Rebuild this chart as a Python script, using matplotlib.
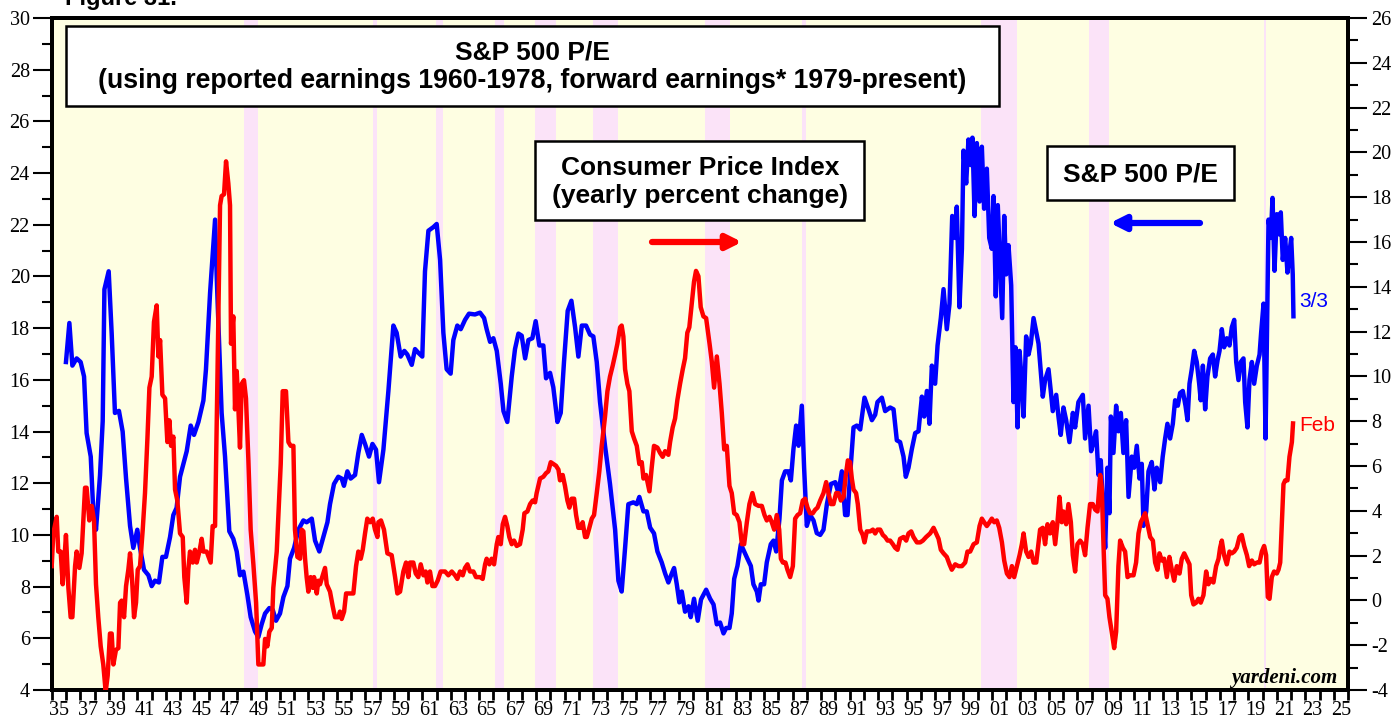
import matplotlib
matplotlib.use("Agg")
import matplotlib.pyplot as plt
from matplotlib.patches import Rectangle
import numpy as np

plt.rcParams['axes.unicode_minus'] = False

# S&P 500 P/E (left axis)
pe_years = [
    1935.98, 1936.22, 1936.43, 1936.73, 1937.01, 1937.25, 1937.43, 1937.72, 1937.9, 1938.09,
    1938.37, 1938.56, 1938.68, 1938.98, 1939.19, 1939.42, 1939.7, 1939.96, 1940.2, 1940.48,
    1940.71, 1940.99, 1941.18, 1941.46, 1941.77, 1942.0, 1942.23, 1942.51, 1942.75, 1943.0,
    1943.29, 1943.52, 1943.75, 1943.99, 1944.46, 1944.74, 1944.97, 1945.28, 1945.63, 1945.81,
    1946.1, 1946.45, 1946.56, 1946.91, 1947.15, 1947.45, 1947.73, 1947.97, 1948.2, 1948.44,
    1948.72, 1948.95, 1949.26, 1949.49, 1949.72, 1949.96, 1950.26, 1950.5, 1950.73, 1951.01,
    1951.25, 1951.53, 1951.71, 1952.0, 1952.3, 1952.65, 1952.88, 1953.24, 1953.47, 1953.77,
    1954.05, 1954.34, 1954.52, 1954.8, 1955.1, 1955.34, 1955.5, 1955.74, 1955.97, 1956.28,
    1956.51, 1956.75, 1956.98, 1957.26, 1957.5, 1957.75, 1957.96, 1958.27, 1958.62, 1958.97,
    1959.2, 1959.48, 1959.74, 1959.95, 1960.26, 1960.49, 1960.72, 1961.0, 1961.19, 1961.43,
    1961.78, 1962.01, 1962.25, 1962.48, 1962.71, 1962.99, 1963.18, 1963.46, 1963.7, 1964.0,
    1964.28, 1964.7, 1965.05, 1965.34, 1965.52, 1965.76, 1965.99, 1966.23, 1966.51, 1966.7,
    1966.97, 1967.28, 1967.51, 1967.75, 1967.98, 1968.22, 1968.45, 1968.73, 1968.96, 1969.22,
    1969.5, 1969.69, 1969.97, 1970.2, 1970.49, 1970.72, 1970.95, 1971.21, 1971.47, 1971.73,
    1971.96, 1972.2, 1972.5, 1972.78, 1973.01, 1973.25, 1973.48, 1973.83, 1974.18, 1974.54,
    1974.77, 1975.0, 1975.24, 1975.47, 1975.82, 1976.06, 1976.24, 1976.53, 1976.76, 1977.0,
    1977.27, 1977.51, 1977.81, 1978.05, 1978.28, 1978.52, 1978.68, 1978.87, 1979.05, 1979.22,
    1979.45, 1979.69, 1979.85, 1980.08, 1980.34, 1980.57, 1980.93, 1981.21, 1981.45, 1981.68,
    1981.91, 1982.15, 1982.34, 1982.57, 1982.73, 1982.9, 1983.13, 1983.37, 1983.6, 1983.83,
    1984.07, 1984.25, 1984.49, 1984.61, 1984.77, 1985.0, 1985.19, 1985.47, 1985.66, 1985.85,
    1986.08, 1986.25, 1986.48, 1986.71, 1986.88, 1987.06, 1987.25, 1987.42, 1987.65, 1987.81,
    1988.0, 1988.23, 1988.47, 1988.7, 1988.94, 1989.17, 1989.41, 1989.69, 1990.0, 1990.22,
    1990.46, 1990.69, 1990.86, 1991.04, 1991.28, 1991.51, 1991.75, 1992.05, 1992.33, 1992.57,
    1992.8, 1992.96, 1993.27, 1993.5, 1993.85, 1994.09, 1994.32, 1994.55, 1994.79, 1994.95,
    1995.14, 1995.37, 1995.61, 1995.84, 1996.08, 1996.24, 1996.43, 1996.61, 1996.78, 1997.01,
    1997.18, 1997.41, 1997.6, 1997.83, 1998.02, 1998.21, 1998.42, 1998.53, 1998.72, 1998.89,
    1999.0, 1999.19, 1999.35, 1999.52, 1999.63, 1999.78, 1999.94, 2000.13, 2000.29, 2000.45,
    2000.64, 2000.81, 2000.99, 2001.11, 2001.27, 2001.41, 2001.58, 2001.72, 2001.86, 2002.0,
    2002.16, 2002.35, 2002.51, 2002.65, 2002.8, 2002.94, 2003.1, 2003.22, 2003.4, 2003.57,
    2003.73, 2003.92, 2004.27, 2004.57, 2004.73, 2004.97, 2005.13, 2005.27, 2005.51, 2005.67,
    2005.83, 2006.02, 2006.21, 2006.44, 2006.68, 2006.84, 2007.07, 2007.38, 2007.54, 2007.78,
    2007.96, 2008.13, 2008.31, 2008.48, 2008.64, 2008.78, 2008.95, 2009.11, 2009.25, 2009.35,
    2009.53, 2009.72, 2009.88, 2010.05, 2010.23, 2010.42, 2010.59, 2010.82, 2010.98, 2011.17,
    2011.36, 2011.52, 2011.64, 2011.83, 2011.99, 2012.22, 2012.41, 2012.57, 2012.81, 2012.99,
    2013.16, 2013.32, 2013.51, 2013.7, 2013.86, 2014.05, 2014.21, 2014.4, 2014.59, 2014.73,
    2014.87, 2015.03, 2015.2, 2015.38, 2015.55, 2015.66, 2015.81, 2015.97, 2016.13, 2016.32,
    2016.51, 2016.67, 2016.84, 2016.98, 2017.14, 2017.3, 2017.49, 2017.68, 2017.84, 2018.01,
    2018.15, 2018.31, 2018.47, 2018.66, 2018.78, 2018.94, 2019.08, 2019.25, 2019.41, 2019.6,
    2019.79, 2019.9, 2020.07, 2020.21, 2020.3, 2020.42, 2020.58, 2020.7, 2020.84, 2021.0,
    2021.17, 2021.28, 2021.42, 2021.59, 2021.75, 2021.89, 2022.01, 2022.12, 2022.17,
]
pe_values = [
    16.69, 18.2, 16.55, 16.83, 16.69, 16.13, 13.94, 13.03, 10.9, 10.2,
    12.3, 14.4, 19.5, 20.2, 17.8, 14.72, 14.8, 14.0, 12.18, 10.35,
    9.5, 10.2, 9.5, 8.65, 8.44, 8.02, 8.23, 8.16, 9.15, 9.15,
    9.92, 10.77, 11.05, 12.25, 13.24, 14.23, 13.87, 14.37, 15.2, 16.4,
    19.37, 22.2, 20.08, 14.72, 13.03, 10.14, 9.85, 9.36, 8.44, 8.58,
    7.67, 6.82, 6.26, 6.05, 6.54, 6.96, 7.17, 7.1, 6.68, 6.96,
    7.6, 8.02, 9.08, 9.5, 10.2, 10.56, 10.49, 10.63, 9.78, 9.36,
    9.92, 10.49, 11.19, 11.97, 12.25, 12.18, 11.9, 12.46, 12.18, 12.32,
    13.17, 13.87, 13.52, 13.03, 13.52, 13.3, 12.04, 13.3, 15.57, 18.1,
    17.82, 16.9, 17.12, 16.98, 16.58, 17.19, 17.05, 16.9, 20.2, 21.77,
    21.91, 22.03, 20.64, 17.82, 16.41, 16.24, 17.54, 18.1, 17.96, 18.32,
    18.56, 18.53, 18.6, 18.39, 17.96, 17.47, 17.61, 17.12, 15.85, 14.79,
    14.37, 16.13, 17.19, 17.79, 17.71, 16.83, 17.54, 17.61, 18.27, 17.33,
    17.33, 16.06, 16.27, 15.71, 14.37, 14.72, 16.69, 18.67, 19.06, 18.03,
    16.9, 18.1, 18.1, 17.75, 17.68, 16.69, 15.14, 13.45, 11.97, 10.2,
    8.23, 7.81, 9.5, 11.19, 11.26, 11.19, 11.47, 10.91, 10.91, 10.28,
    10.06, 9.36, 8.94, 8.51, 8.16, 8.51, 8.72, 8.09, 7.39, 7.81,
    7.03, 7.24, 6.82, 7.53, 6.68, 7.5, 7.88, 7.53, 7.31, 6.54,
    6.61, 6.19, 6.4, 6.4, 6.96, 8.3, 8.8, 9.64, 9.36, 9.08,
    8.8, 8.09, 7.81, 7.46, 8.09, 8.09, 8.94, 9.64, 9.78, 9.36,
    10.63, 12.11, 12.46, 12.46, 12.11, 13.31, 14.23, 13.45, 15.0, 12.6,
    10.35, 10.77, 10.56, 10.07, 10.0, 10.2, 11.19, 11.97, 12.04, 11.62,
    12.46, 10.77, 10.77, 12.32, 14.16, 14.23, 14.08, 15.31, 14.86, 14.44,
    14.65, 15.14, 15.31, 14.79, 14.93, 14.86, 13.66, 13.59, 13.03, 12.25,
    12.6, 13.31, 13.94, 14.01, 15.35, 14.58, 15.57, 14.3, 16.55, 15.85,
    17.33, 18.39, 19.51, 17.96, 18.95, 22.34, 21.49, 22.7, 18.81, 21.07,
    24.87, 23.6, 25.3, 24.31, 25.37, 22.34, 25.16, 22.9, 25.02, 22.62,
    24.17, 21.49, 21.07, 23.11, 19.23, 22.76, 20.36, 18.39, 22.34, 20.08,
    21.21, 19.66, 15.14, 17.26, 14.16, 17.12, 15.85, 14.58, 17.68, 16.98,
    17.4, 18.39, 17.4, 15.35, 15.99, 16.41, 15.57, 14.79, 15.42, 14.58,
    13.87, 14.93, 14.44, 13.59, 14.72, 14.16, 15.14, 15.42, 13.73, 15.0,
    13.24, 13.59, 14.01, 12.32, 12.89, 11.19, 9.5, 12.6, 10.84, 14.58,
    13.17, 15.0, 14.01, 14.72, 13.17, 14.44, 11.47, 13.03, 12.6, 13.45,
    12.18, 12.75, 10.35, 10.91, 12.46, 12.82, 11.76, 12.6, 12.04, 13.03,
    13.73, 14.3, 13.73, 14.3, 15.21, 15.0, 15.49, 15.57, 15.0, 14.44,
    15.85, 16.41, 17.12, 16.69, 15.85, 15.21, 16.55, 14.86, 16.13, 16.83,
    16.98, 16.13, 16.76, 17.12, 17.96, 17.26, 17.61, 17.33, 18.03, 18.32,
    16.69, 15.99, 16.69, 16.83, 15.14, 14.16, 15.99, 16.69, 15.85, 16.55,
    16.98, 17.82, 18.95, 13.73, 17.26, 22.2, 21.49, 23.04, 20.22, 22.41,
    21.63, 22.48, 20.64, 21.49, 20.15, 20.92, 21.49, 20.08, 18.46,
]

# CPI yearly percent change (right axis)
cpi_years = [
    1934.98, 1935.09, 1935.33, 1935.44, 1935.61, 1935.75, 1935.84, 1935.98, 1936.15, 1936.31,
    1936.43, 1936.62, 1936.73, 1936.92, 1937.08, 1937.32, 1937.43, 1937.62, 1937.79, 1937.95,
    1938.09, 1938.25, 1938.42, 1938.6, 1938.77, 1938.91, 1939.07, 1939.19, 1939.31, 1939.49,
    1939.66, 1939.78, 1939.89, 1940.06, 1940.2, 1940.36, 1940.48, 1940.62, 1940.76, 1940.9,
    1941.02, 1941.18, 1941.37, 1941.53, 1941.7, 1941.84, 1942.0, 1942.16, 1942.35, 1942.47,
    1942.59, 1942.75, 1942.94, 1943.1, 1943.24, 1943.36, 1943.52, 1943.64, 1943.8, 1943.99,
    1944.18, 1944.29, 1944.46, 1944.57, 1944.69, 1944.88, 1945.04, 1945.16, 1945.35, 1945.51,
    1945.63, 1945.86, 1946.14, 1946.28, 1946.45, 1946.61, 1946.8, 1946.91, 1947.08, 1947.22,
    1947.38, 1947.5, 1947.57, 1947.73, 1947.85, 1947.97, 1948.09, 1948.2, 1948.32, 1948.48,
    1948.62, 1948.79, 1948.95, 1949.14, 1949.33, 1949.49, 1949.65, 1949.84, 1949.96, 1950.12,
    1950.26, 1950.43, 1950.54, 1950.78, 1950.89, 1951.06, 1951.2, 1951.43, 1951.6, 1951.76,
    1951.95, 1952.06, 1952.23, 1952.42, 1952.53, 1952.65, 1952.77, 1952.88, 1953.0, 1953.16,
    1953.31, 1953.4, 1953.59, 1953.7, 1953.82, 1954.01, 1954.17, 1954.29, 1954.52, 1954.71,
    1954.87, 1955.11, 1955.22, 1955.34, 1955.51, 1955.65, 1955.93, 1956.16, 1956.35, 1956.51,
    1956.68, 1956.82, 1956.98, 1957.14, 1957.33, 1957.52, 1957.68, 1957.85, 1957.92, 1958.1,
    1958.31, 1958.55, 1958.85, 1959.09, 1959.25, 1959.44, 1959.67, 1959.86, 1960.02, 1960.14,
    1960.37, 1960.54, 1960.72, 1960.89, 1961.08, 1961.24, 1961.36, 1961.54, 1961.71, 1961.89,
    1962.08, 1962.29, 1962.6, 1962.83, 1963.07, 1963.3, 1963.46, 1963.65, 1963.84, 1964.0,
    1964.17, 1964.35, 1964.59, 1964.77, 1965.05, 1965.24, 1965.41, 1965.52, 1965.71, 1965.87,
    1966.04, 1966.23, 1966.34, 1966.51, 1966.65, 1966.81, 1966.97, 1967.11, 1967.28, 1967.44,
    1967.63, 1967.86, 1968.05, 1968.17, 1968.38, 1968.57, 1968.75, 1968.92, 1969.03, 1969.27,
    1969.5, 1969.69, 1969.85, 1970.02, 1970.2, 1970.39, 1970.56, 1970.67, 1970.86, 1971.02,
    1971.19, 1971.33, 1971.49, 1971.66, 1971.8, 1971.96, 1972.13, 1972.26, 1972.43, 1972.55,
    1972.73, 1972.9, 1973.06, 1973.25, 1973.43, 1973.6, 1973.83, 1974.0, 1974.18, 1974.37,
    1974.54, 1974.7, 1974.89, 1975.0, 1975.12, 1975.24, 1975.4, 1975.54, 1975.71, 1975.87,
    1976.06, 1976.24, 1976.41, 1976.53, 1976.71, 1976.95, 1977.11, 1977.27, 1977.51, 1977.7,
    1977.88, 1978.05, 1978.28, 1978.4, 1978.58, 1978.75, 1978.91, 1979.1, 1979.29, 1979.45,
    1979.61, 1979.75, 1979.92, 1980.08, 1980.22, 1980.39, 1980.55, 1980.74, 1980.93, 1981.17,
    1981.33, 1981.49, 1981.68, 1981.87, 1982.03, 1982.2, 1982.38, 1982.57, 1982.73, 1982.9,
    1983.08, 1983.27, 1983.44, 1983.6, 1983.79, 1983.97, 1984.18, 1984.37, 1984.61, 1984.84,
    1985.03, 1985.19, 1985.38, 1985.54, 1985.71, 1985.89, 1986.06, 1986.18, 1986.32, 1986.5,
    1986.64, 1986.83, 1987.02, 1987.18, 1987.35, 1987.53, 1987.72, 1987.88, 1988.05, 1988.23,
    1988.42, 1988.59, 1988.75, 1988.94, 1989.17, 1989.36, 1989.52, 1989.69, 1989.87, 1990.06,
    1990.22, 1990.39, 1990.58, 1990.74, 1990.88, 1991.04, 1991.16, 1991.28, 1991.46, 1991.58,
    1991.75, 1991.93, 1992.05, 1992.21, 1992.45, 1992.64, 1992.8, 1992.96, 1993.15, 1993.34,
    1993.5, 1993.67, 1993.85, 1994.04, 1994.2, 1994.37, 1994.55, 1994.79, 1994.98, 1995.14,
    1995.33, 1995.49, 1995.73, 1995.96, 1996.15, 1996.38, 1996.66, 1996.9, 1997.08, 1997.25,
    1997.41, 1997.6, 1997.83, 1998.02, 1998.18, 1998.42, 1998.65, 1998.89, 1999.12, 1999.28,
    1999.47, 1999.71, 1999.94, 2000.13, 2000.29, 2000.45, 2000.64, 2000.83, 2000.99, 2001.16,
    2001.34, 2001.51, 2001.7, 2001.86, 2002.05, 2002.23, 2002.4, 2002.56, 2002.75, 2002.94,
    2003.1, 2003.22, 2003.4, 2003.57, 2003.75, 2003.92, 2004.11, 2004.38, 2004.57, 2004.73,
    2004.9, 2005.08, 2005.27, 2005.44, 2005.6, 2005.74, 2005.9, 2006.02, 2006.21, 2006.37,
    2006.54, 2006.68, 2006.84, 2007.0, 2007.19, 2007.38, 2007.54, 2007.71, 2007.89, 2008.08,
    2008.25, 2008.41, 2008.6, 2008.71, 2008.83, 2008.95, 2009.11, 2009.25, 2009.41, 2009.58,
    2009.72, 2009.88, 2010.0, 2010.19, 2010.35, 2010.52, 2010.7, 2010.94, 2011.12, 2011.29,
    2011.45, 2011.64, 2011.76, 2011.92, 2012.11, 2012.3, 2012.46, 2012.62, 2012.76, 2012.93,
    2013.09, 2013.28, 2013.46, 2013.63, 2013.79, 2013.98, 2014.17, 2014.33, 2014.5, 2014.68,
    2014.87, 2014.99, 2015.15, 2015.34, 2015.5, 2015.66, 2015.85, 2016.04, 2016.2, 2016.37,
    2016.55, 2016.74, 2016.91, 2017.02, 2017.14, 2017.3, 2017.49, 2017.68, 2017.84, 2018.01,
    2018.19, 2018.38, 2018.54, 2018.71, 2018.9, 2019.06, 2019.25, 2019.41, 2019.6, 2019.79,
    2019.95, 2020.11, 2020.25, 2020.37, 2020.49, 2020.65, 2020.81, 2021.0, 2021.12, 2021.24,
    2021.35, 2021.47, 2021.59, 2021.75, 2021.89, 2022.06, 2022.14,
]
cpi_values = [
    1.53, 2.99, 3.73, 2.18, 2.18, 0.72, 1.53, 2.92, 0.56, -0.75,
    -0.75, 1.53, 2.18, 1.45, 2.1, 5.03, 5.03, 3.57, 4.22, 3.57,
    0.72, -0.75, -2.05, -2.86, -4.08, -3.35, -1.48, -1.48, -2.86, -2.21,
    -2.13, -0.1, -0.01, -0.75, 0.64, 1.37, 2.1, 0.96, -0.75, -0.1,
    1.37, 1.53, 3.16, 4.79, 7.23, 9.5, 9.99, 12.43, 13.17, 10.89,
    11.62, 9.18, 9.02, 7.07, 8.04, 6.9, 7.31, 4.95, 4.46, 2.99,
    2.83, 1.04, -0.1, 1.37, 2.18, 1.69, 2.26, 1.69, 2.18, 2.75,
    2.18, 2.18, 1.69, 3.32, 3.32, 9.67, 17.64, 18.05, 18.13, 19.6,
    18.62, 17.64, 11.46, 12.68, 8.53, 10.24, 8.53, 6.82, 9.67, 9.83,
    9.02, 6.25, 3.16, 1.61, -0.1, -2.86, -2.86, -2.86, -1.72, -2.05,
    -1.4, -1.23, 0.56, 2.18, 3.73, 6.09, 9.34, 9.34, 7.07, 6.9,
    6.9, 3.16, 1.94, 1.86, 3.16, 3.08, 1.86, 1.04, 0.39, 1.04,
    0.56, 1.04, 0.31, 0.88, 0.72, 1.12, 1.45, 0.72, 0.39, -0.26,
    -0.75, -0.75, -0.5, -0.83, -0.5, 0.31, 0.31, 0.31, 1.53, 2.18,
    1.86, 2.26, 2.99, 3.65, 3.49, 3.65, 3.16, 2.83, 3.49, 3.57,
    3.16, 2.1, 2.02, 1.04, 0.31, 0.39, 1.29, 1.69, 1.04, 1.69,
    1.69, 1.2, 1.04, 1.61, 1.12, 1.29, 0.8, 1.29, 0.64, 0.64,
    0.88, 1.29, 1.29, 1.12, 1.29, 1.12, 0.96, 1.29, 1.12, 1.45,
    1.61, 1.29, 1.29, 1.04, 1.04, 0.96, 1.61, 1.86, 1.61, 1.86,
    1.61, 2.51, 2.83, 2.51, 3.4, 3.73, 3.32, 2.83, 2.51, 2.67,
    2.43, 2.51, 3.16, 3.89, 3.97, 4.3, 4.46, 4.38, 4.79, 5.44,
    5.52, 5.68, 5.76, 6.17, 6.09, 6.01, 5.84, 5.36, 5.6, 5.11,
    4.46, 4.14, 4.54, 4.54, 3.81, 3.24, 3.24, 3.49, 2.83, 2.83,
    3.24, 3.65, 3.81, 4.79, 5.76, 6.9, 8.2, 9.34, 9.99, 10.48,
    10.97, 11.46, 12.19, 12.27, 11.78, 10.32, 9.67, 9.34, 7.55, 7.23,
    6.9, 6.09, 6.17, 5.44, 5.6, 4.87, 5.93, 6.9, 6.82, 6.58,
    6.41, 6.66, 6.5, 7.07, 7.72, 8.12, 8.94, 9.67, 10.32, 10.81,
    11.95, 12.19, 13.25, 14.23, 14.71, 14.47, 13.09, 12.68, 12.6, 11.46,
    10.65, 9.5, 10.89, 9.67, 8.37, 6.74, 6.9, 5.11, 4.79, 3.89,
    3.81, 3.49, 2.51, 2.51, 3.49, 4.3, 4.79, 4.3, 4.22, 4.22,
    3.81, 3.57, 3.73, 3.49, 3.16, 3.81, 3.16, 1.86, 1.69, 1.69,
    1.37, 1.04, 1.53, 3.65, 3.81, 3.89, 4.46, 4.54, 4.14, 3.89,
    3.89, 4.05, 4.14, 4.46, 4.79, 5.28, 4.79, 4.3, 4.3, 4.79,
    4.79, 4.46, 4.62, 5.6, 6.25, 6.17, 5.44, 4.95, 4.79, 4.3,
    3.16, 2.92, 2.59, 3.08, 3.08, 3.16, 2.99, 3.16, 3.16, 2.92,
    2.83, 2.67, 2.67, 2.51, 2.35, 2.26, 2.75, 2.83, 2.67, 2.99,
    3.08, 2.83, 2.59, 2.59, 2.67, 2.83, 2.99, 3.24, 2.99, 2.75,
    2.26, 2.1, 1.94, 1.61, 1.37, 1.61, 1.53, 1.53, 1.69, 2.18,
    2.18, 2.51, 2.59, 3.32, 3.65, 3.49, 3.32, 3.49, 3.65, 3.49,
    3.57, 3.24, 2.59, 1.78, 1.2, 1.04, 1.53, 1.04, 1.53, 2.02,
    2.51, 2.99, 2.18, 1.94, 2.18, 1.69, 1.69, 3.16, 3.24, 2.51,
    3.4, 2.99, 3.49, 2.51, 3.49, 4.62, 3.49, 3.97, 3.4, 4.3,
    3.49, 2.02, 1.29, 2.51, 2.67, 2.51, 2.02, 3.24, 4.3, 4.3,
    4.05, 3.97, 5.6, 5.03, 2.51, 0.23, 0.07, -0.75, -1.4, -2.13,
    -1.4, 1.53, 2.67, 2.35, 2.18, 1.04, 1.12, 1.12, 1.69, 2.99,
    3.49, 3.73, 3.89, 3.4, 2.83, 2.67, 1.69, 1.37, 2.1, 1.78,
    1.86, 1.04, 1.94, 1.37, 0.88, 1.53, 1.2, 1.86, 2.1, 1.86,
    1.61, 0.23, -0.18, -0.1, 0.07, -0.1, 0.23, 1.29, 0.72, 0.96,
    0.8, 1.53, 1.86, 2.35, 2.67, 2.02, 1.61, 2.18, 2.1, 2.18,
    2.35, 2.83, 2.92, 2.43, 2.02, 1.53, 1.78, 1.61, 1.69, 1.69,
    2.18, 2.43, 2.02, 0.15, 0.07, 1.04, 1.29, 1.2, 1.37, 1.69,
    3.32, 5.19, 5.36, 5.36, 6.41, 7.07, 7.9,
]

# S&P 500 bear markets (shaded)
bear_start = [1948.45, 1957.55, 1961.95, 1966.1, 1968.9, 1973.02, 1980.88, 1987.65, 2000.2, 2007.78, 2020.13]
bear_end = [1949.48, 1957.8, 1962.48, 1966.75, 1970.4, 1974.77, 1982.62, 1987.92, 2002.78, 2009.2, 2020.24]

year_labels = [f"{y % 100:02d}" for y in range(1935, 2026, 2)]

fig = plt.figure(figsize=(13.94, 7.19), dpi=100)
ax = fig.add_axes([52 / 1394, 29 / 719, 1296 / 1394, 672 / 719])
ax.set_facecolor('#FEFEE2')
ax.set_xlim(1935, 2026)
ax.set_ylim(4, 30)

for s, e in zip(bear_start, bear_end):
    ax.axvspan(s, e, color='#FBE3F8', lw=0, zorder=0)

ax.plot(pe_years, pe_values, color='#0000FF', lw=3.2, zorder=3)

ax2 = ax.twinx()
ax2.set_ylim(-4, 26)
ax2.plot(cpi_years, cpi_values, color='#FF0000', lw=3.2, zorder=3)

# axes and ticks
serif = 'Liberation Serif'
ax.set_yticks(np.arange(4, 31, 2))
ax.set_yticks(np.arange(5, 30, 2), minor=True)
ax.tick_params(axis='y', which='major', length=14, width=1.5, labelsize=14.5,
               pad=2, labelfontfamily=serif)
ax.tick_params(axis='y', which='minor', length=7, width=1.5)
ax2.set_yticks(np.arange(-4, 27, 2))
ax2.set_yticks(np.arange(-3, 26, 2), minor=True)
ax2.tick_params(axis='y', which='major', length=14, width=1.5, labelsize=14.5,
                pad=3, labelfontfamily=serif)
ax2.tick_params(axis='y', which='minor', length=7, width=1.5)

ax.set_xticks(np.arange(1935, 2027))
ax.set_xticklabels([])
ax.set_xticks(np.arange(1935.5, 2026, 2), minor=True)
ax.set_xticklabels(year_labels, minor=True)
ax.tick_params(axis='x', which='major', length=7, width=2)
ax.tick_params(axis='x', which='minor', length=0, pad=8, labelsize=14.5,
               labelfontfamily=serif)

for a in (ax, ax2):
    for sp in a.spines.values():
        sp.set_linewidth(2.8)


def axfrac(px, py):
    return ((px - 52) / 1296, (690 - py) / 672)


def draw_box(x0, y0, x1, y1):
    fx0, fy1 = axfrac(x0, y1)
    fx1, fy0 = axfrac(x1, y0)
    ax2.add_patch(Rectangle((fx0, fy1), fx1 - fx0, fy0 - fy1, transform=ax2.transAxes,
                            facecolor='white', edgecolor='black', lw=1.8, zorder=6))


sans = 'Liberation Sans'
draw_box(66, 26, 999, 106)
ax2.text(*axfrac(532, 53), 'S&P 500 P/E', transform=ax2.transAxes, ha='center',
         va='center', fontsize=19, fontweight='bold', family=sans, zorder=7)
ax2.text(*axfrac(532, 81), '(using reported earnings 1960-1978, forward earnings* 1979-present)',
         transform=ax2.transAxes, ha='center', va='center', fontsize=19.2,
         fontweight='bold', family=sans, zorder=7)

draw_box(535, 141, 864, 220)
ax2.text(*axfrac(700, 168), 'Consumer Price Index', transform=ax2.transAxes, ha='center',
         va='center', fontsize=19, fontweight='bold', family=sans, zorder=7)
ax2.text(*axfrac(700, 196), '(yearly percent change)', transform=ax2.transAxes, ha='center',
         va='center', fontsize=19, fontweight='bold', family=sans, zorder=7)

draw_box(1047, 146, 1234, 200)
ax2.text(*axfrac(1140, 174), 'S&P 500 P/E', transform=ax2.transAxes, ha='center',
         va='center', fontsize=19, fontweight='bold', family=sans, zorder=7)

ax2.annotate('', xy=axfrac(742, 242), xytext=axfrac(652, 242), xycoords='axes fraction',
             textcoords='axes fraction',
             arrowprops=dict(arrowstyle='-|>', color='#FF0000', lw=4.5, mutation_scale=22,
                             shrinkA=0, shrinkB=0))
ax2.annotate('', xy=axfrac(1110, 223), xytext=axfrac(1200, 223), xycoords='axes fraction',
             textcoords='axes fraction',
             arrowprops=dict(arrowstyle='-|>', color='#0000FF', lw=4.5, mutation_scale=22,
                             shrinkA=0, shrinkB=0))

ax.text(2022.55, 19.05, '3/3', color='#0000FF', fontsize=15, family=sans,
        ha='left', va='center', zorder=7)
ax2.text(2022.6, 7.8, 'Feb', color='#FF0000', fontsize=15, family=sans,
         ha='left', va='center', zorder=7)

ax2.text(*axfrac(1337, 683), 'yardeni.com', transform=ax2.transAxes, ha='right',
         va='baseline', fontsize=15, fontweight='bold', fontstyle='italic',
         family=serif, zorder=7)

fig.text(65 / 1394, 1 - 5 / 719, 'Figure 31.', fontsize=17, fontweight='bold',
         family=sans, ha='left', va='baseline')

fig.savefig('out.png', dpi=100)
